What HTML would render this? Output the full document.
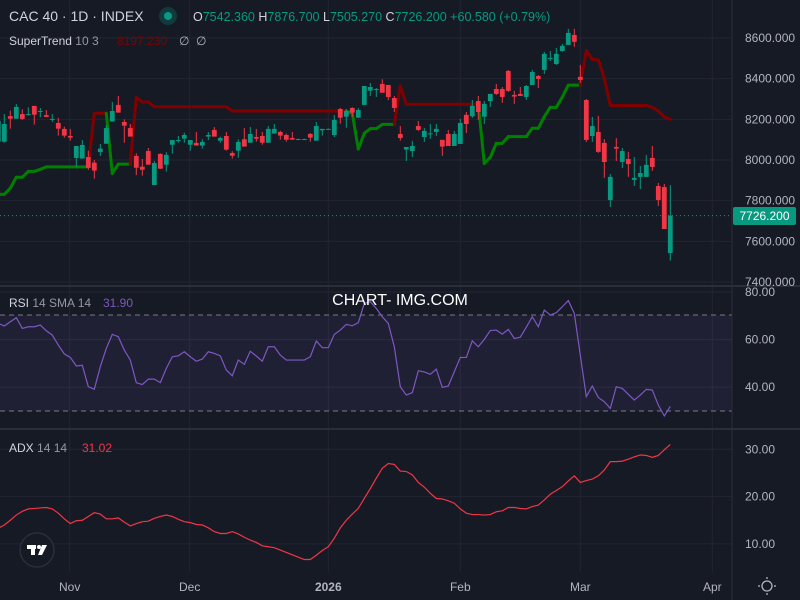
<!DOCTYPE html>
<html><head><meta charset="utf-8"><style>
body{margin:0;background:#161a25;width:800px;height:600px;overflow:hidden;font-family:"Liberation Sans",sans-serif}
svg{display:block}
</style></head><body>
<svg id="chart" width="800" height="600" xmlns="http://www.w3.org/2000/svg">
<rect x="0" y="0" width="800" height="600" fill="#161a25"/>
<g id="grid"></g>
<rect x="0" y="315" width="732" height="96" fill="#7e57c2" fill-opacity="0.1"/>
<line x1="0" y1="315" x2="732" y2="315" stroke="#787b86" stroke-dasharray="5,4"/>
<line x1="0" y1="411" x2="732" y2="411" stroke="#787b86" stroke-dasharray="5,4"/>
<g id="st"></g>
<g id="candles"></g>
<line x1="0" y1="215.6" x2="732" y2="215.6" stroke="#089981" stroke-dasharray="1,3"/>
<g id="rsi"></g>
<g id="adx"></g>
<line x1="0" y1="286" x2="800" y2="286" stroke="#2a2e39" stroke-width="2"/>
<line x1="0" y1="429" x2="800" y2="429" stroke="#2a2e39" stroke-width="2"/>
<g id="axes" font-size="12" fill="#b2b5be"></g>
<rect x="733" y="207" width="63" height="18" rx="2" fill="#089981"/>
<text x="764.5" y="220" font-size="12" fill="#ffffff" text-anchor="middle">7726.200</text>
<text x="9" y="21" font-size="14" fill="#d1d4dc">CAC 40 · 1D · INDEX</text>
<circle cx="168" cy="16" r="9" fill="#089981" fill-opacity="0.25"/>
<circle cx="168" cy="16" r="4" fill="#089981"/>
<text x="193" y="21" font-size="12.5" fill="#089981"><tspan fill="#d1d4dc">O</tspan>7542.360 <tspan fill="#d1d4dc">H</tspan>7876.700 <tspan fill="#d1d4dc">L</tspan>7505.270 <tspan fill="#d1d4dc">C</tspan>7726.200 +60.580 (+0.79%)</text>
<text x="9" y="45" font-size="12" fill="#d1d4dc">SuperTrend <tspan fill="#9598a1">10 3</tspan><tspan x="117" fill="#800000">8197.230</tspan><tspan x="179" fill="#b2b5be">∅</tspan><tspan x="196" fill="#b2b5be">∅</tspan></text>
<text x="9" y="307" font-size="12" fill="#d1d4dc">RSI <tspan fill="#9598a1">14 SMA 14</tspan><tspan x="103" fill="#7e57c2">31.90</tspan></text>
<text x="9" y="452" font-size="12" fill="#d1d4dc">ADX <tspan fill="#9598a1">14 14</tspan><tspan x="82" fill="#f23645">31.02</tspan></text>
<text x="400" y="305" font-size="16" fill="#ffffff" text-anchor="middle">CHART- IMG.COM</text>
<g>
<circle cx="37" cy="550" r="17" fill="#161a25" stroke="#2a2e39" stroke-width="1.5"/>
<rect x="27" y="545" width="9" height="4" fill="#ffffff"/><rect x="31" y="545" width="4" height="10" fill="#ffffff"/>
<circle cx="39" cy="547" r="2" fill="#ffffff"/><polygon points="42,545 47,545 42,555 38,555" fill="#ffffff"/>
</g>
<g stroke="#b2b5be" fill="none" stroke-width="1.3">
<circle cx="767" cy="586" r="5"/>
<line x1="767" y1="577" x2="767" y2="579"/><line x1="767" y1="593" x2="767" y2="595"/>
<line x1="758" y1="586" x2="760" y2="586"/><line x1="774" y1="586" x2="776" y2="586"/>
</g>
</svg>
<script>
const opens=[8090,8090,8216,8203,8226,8221,8266,8238,8221,8198,8182,8153,8118,8010,8007,8015,7987,8039,8080,8189,8271,8187,8157,8020,7967,8044,7877,8030,7977,8075,8095,8105,8075,8084,8071,8115,8148,8095,8118,8034,8046,8102,8085,8113,8118,8085,8130,8138,8123,8108,8102,8102,8128,8095,8146,8151,8123,8251,8213,8256,8208,8271,8341,8346,8374,8369,8305,8128,8051,8044,8167,8113,8128,8138,8099,8128,8069,8079,8222,8215,8290,8213,8290,8349,8349,8438,8320,8325,8310,8369,8413,8443,8499,8472,8536,8566,8615,8409,8295,8118,8138,8084,7803,8064,7990,8005,7902,7917,7917,8010,7872,7867,7542.36];
const closes=[8192,8177,8203,8261,8202,8226,8223,8241,8212,8202,8154,8120,8110,8069,8074,7961,7948,8056,8157,8241,8233,8169,8115,7962,7952,7977,7985,7957,8025,8098,8098,8123,8098,8071,8089,8123,8115,8108,8051,8021,8089,8066,8128,8105,8085,8153,8153,8120,8100,8100,8103,8103,8110,8167,8153,8153,8197,8208,8241,8233,8246,8364,8359,8349,8331,8310,8256,8108,8064,8069,8148,8143,8131,8153,8066,8069,8128,8182,8177,8266,8236,8276,8325,8325,8310,8340,8312,8315,8364,8433,8399,8522,8502,8522,8561,8625,8581,8394,8099,8167,8040,7990,7917,8056,8044,7980,7912,7936,7976,7966,7803,7661,7726.2];
const highs=[8230,8226,8243,8275,8249,8259,8266,8256,8246,8226,8207,8164,8153,8069,8098,8046,8000,8079,8170,8285,8315,8200,8177,8033,8005,8059,7995,8033,8038,8098,8118,8134,8098,8138,8102,8138,8162,8115,8138,8043,8102,8157,8162,8153,8138,8167,8177,8144,8130,8138,8105,8105,8133,8187,8153,8155,8221,8256,8251,8259,8256,8364,8379,8354,8397,8369,8315,8167,8064,8094,8192,8158,8177,8177,8099,8148,8143,8202,8236,8295,8315,8290,8325,8374,8359,8443,8340,8359,8369,8443,8418,8532,8536,8551,8571,8645,8645,8468,8300,8212,8217,8103,7931,8108,8059,8040,8015,7971,8025,8069,7887,7882,7876.7];
const lows=[8085,8085,8154,8203,8197,8218,8174,8210,8210,8187,8120,8110,8095,7967,8007,7951,7908,8020,8080,8189,8233,8085,8115,7926,7923,7977,7877,7957,7943,8031,8085,8085,8046,8071,8056,8098,8115,8085,8046,8007,8011,8066,8085,8090,8075,8085,8130,8100,8090,8100,8100,8100,8090,8095,8120,8150,8113,8179,8159,8213,8208,8271,8315,8310,8331,8295,8236,8095,7995,8015,8143,8089,8104,8118,8020,8069,8069,8079,8133,8207,8197,8177,8261,8320,8281,8335,8276,8315,8295,8369,8354,8423,8487,8468,8532,8566,8556,8379,8089,8089,8035,7912,7769,7995,7961,7917,7872,7857,7917,7946,7774,7661,7505.27];
const stValues=[7831,7831,7861,7915,7915,7944,7944,7954,7966,7966,7966,7966,7966,7966,7966,7966,8230,8230,8230,7934,7980,7980,7980,8308,8285,8285,8262,8262,8262,8262,8262,8262,8262,8262,8262,8262,8262,8262,8262,8241,8241,8241,8241,8241,8241,8241,8241,8241,8241,8241,8241,8241,8241,8241,8241,8241,8241,8241,8241,8229,8054,8131,8154,8154,8175,8175,8175,8364,8274,8274,8274,8274,8274,8274,8274,8274,8274,8274,8274,8274,8274,7983,8013,8082,8082,8115,8115,8115,8115,8156,8156,8213,8259,8259,8309,8368,8368,8368,8538,8495,8492,8402,8268,8268,8268,8268,8268,8268,8268,8259,8241,8213,8200];
const stDir=[1,1,1,1,1,1,1,1,1,1,1,1,1,1,1,1,-1,-1,-1,1,1,1,1,-1,-1,-1,-1,-1,-1,-1,-1,-1,-1,-1,-1,-1,-1,-1,-1,-1,-1,-1,-1,-1,-1,-1,-1,-1,-1,-1,-1,-1,-1,-1,-1,-1,-1,-1,-1,1,1,1,1,1,1,1,1,-1,-1,-1,-1,-1,-1,-1,-1,-1,-1,-1,-1,-1,-1,1,1,1,1,1,1,1,1,1,1,1,1,1,1,1,1,1,-1,-1,-1,-1,-1,-1,-1,-1,-1,-1,-1,-1,-1,-1,-1];
const rsiValues=[66.8,65.7,67.5,69.2,64.7,65.4,65.4,66.1,63.7,61.9,57.7,54,52.5,48.9,49.2,40.2,39.1,48.6,56.3,62.2,61.2,55.6,51.4,41.9,41.1,43.4,43.4,41.9,47.9,52.8,53.2,54.9,52.8,50.9,51.8,54.9,54.2,53.2,47.2,44.8,51.4,49.6,55.1,53.1,50.9,57,57,53.5,51.4,51.4,51.4,51.4,52.8,59.4,56.6,56.6,62.2,64,66.4,65.8,67.1,75.2,75.9,73.1,69.6,66.8,57,40.2,36.7,37.7,46.9,46.4,45.4,47.6,39.9,40.5,46.5,52.5,52.5,59.5,57,60.1,63.8,64,62.3,64.3,60.5,61,65.2,69.6,65.4,72.4,70.3,71.3,73.8,76.4,71,53.5,36,40.5,35.7,33.9,31.1,40.2,39.5,37,34.6,36.7,39.1,38.8,32.5,27.9,31.9];
const adxValues=[13.3,14,15,16.1,16.9,17.4,17.5,17.6,17.7,17.4,16.5,15.3,14.3,14.9,15,15.8,16.6,16.3,15.3,15.3,15.5,14.6,13.8,14.3,14.7,14.8,15.4,15.8,16.1,15.8,15.2,14.7,14.5,14.1,14,13.4,12.6,12.2,12.2,12.6,12.1,11.4,10.8,10.3,9.6,9.4,9.2,8.7,8.2,7.7,7.2,6.7,6.7,7.6,8.6,9.4,11.2,13.4,15,16.3,17.5,19.6,21.7,23.9,26,27,26.8,25.4,25.3,24.6,23,22,20.7,19.6,19.5,19.1,18.6,17.4,16.5,16.2,16.2,16.1,16.2,16.8,17,17.7,17.7,17.5,17.4,17.9,18.2,19.3,20.5,21.3,22.1,23.3,24.4,23,23.4,23.7,24.4,25.6,27.4,27.4,27.5,27.9,28.4,28.8,28.7,28.3,28.7,29.9,31.02];
const priceTicks=[8600,8400,8200,8000,7800,7600,7400];
const priceTickLabels=["8600.000","8400.000","8200.000","8000.000","7800.000","7600.000","7400.000"];
const rsiTicks=[80,60,40];
const rsiTickLabels=["80.00","60.00","40.00"];
const adxTicks=[30,20,10];
const adxTickLabels=["30.00","20.00","10.00"];
const dateLabels=["Nov","Dec","2026","Feb","Mar","Apr"];
const dateIndex=[11.9,31.9,55,77,97,119];

const NS="http://www.w3.org/2000/svg";
const xS=i=>-1.7+6*i;
const yP=p=>38+(8600-p)*0.20333;
const yR=v=>292+(80-v)*2.38;
const yA=v=>449.3+(30-v)*4.73;
function mk(tag,attrs,parent){const e=document.createElementNS(NS,tag);for(const k in attrs)e.setAttribute(k,attrs[k]);parent.appendChild(e);return e;}
const grid=document.getElementById('grid'),axes=document.getElementById('axes');
// vertical grid + date labels
dateLabels.forEach((d,k)=>{const x=xS(dateIndex[k]);
 const l=mk('line',{x1:x,y1:0,x2:x,y2:572,stroke:'#232632'},grid);
 
 
 const t=mk('text',{x:x,y:591,'text-anchor':'middle','font-weight':d==='2026'?'bold':'normal'},axes);t.textContent=d;
 
 
});
priceTicks.forEach((p,k)=>{const y=yP(p);
 if(y<284){const l=mk('line',{x1:0,y1:y,x2:732,y2:y,stroke:'#232632'},grid);
 
 }
 const t=mk('text',{x:745,y:y+4},axes);t.textContent=priceTickLabels[k];
 
 
});
rsiTicks.forEach((v,k)=>{const y=yR(v);
 const l=mk('line',{x1:0,y1:y,x2:732,y2:y,stroke:'#232632'},grid);
 
 
 const t=mk('text',{x:745,y:y+4},axes);t.textContent=rsiTickLabels[k];
 
 
});
adxTicks.forEach((v,k)=>{const y=yA(v);
 const l=mk('line',{x1:0,y1:y,x2:732,y2:y,stroke:'#232632'},grid);
 
 
 const t=mk('text',{x:745,y:y+4},axes);t.textContent=adxTickLabels[k];
 
 
});
const axl=mk('line',{x1:732,y1:0,x2:732,y2:600,stroke:'#2a2e39'},axes);


// supertrend
const st=document.getElementById('st');
for(let i=1;i<stValues.length;i++){
 const c=stDir[i]>0?'#008000':'#800000';
 const s=mk('line',{x1:xS(i-1),y1:yP(stValues[i-1]),x2:xS(i),y2:yP(stValues[i]),stroke:c,'stroke-width':3,'stroke-linecap':'round'},st);
 
 
}
// candles
const cg=document.getElementById('candles');
for(let i=0;i<opens.length;i++){
 const up=closes[i]>=opens[i],col=up?'#089981':'#f23645',x=xS(i);
 const w=mk('line',{x1:x,y1:yP(highs[i]),x2:x,y2:yP(lows[i]),stroke:col,'stroke-width':1},cg);
 
 
 const yt=yP(Math.max(opens[i],closes[i])),yb=yP(Math.min(opens[i],closes[i]));
 const b=mk('rect',{x:x-2.4,y:yt,width:4.8,height:Math.max(1,yb-yt),fill:col},cg);
 
 
}
// rsi
const rp=rsiValues.map((v,i)=>xS(i)+','+yR(v)).join(' ');
const rl=mk('polyline',{points:rp,fill:'none',stroke:'#7e57c2','stroke-width':1.2},document.getElementById('rsi'));


const ap=adxValues.map((v,i)=>xS(i)+','+yA(v)).join(' ');
const al=mk('polyline',{points:ap,fill:'none',stroke:'#f23645','stroke-width':1.2},document.getElementById('adx'));


</script>
</body></html>
